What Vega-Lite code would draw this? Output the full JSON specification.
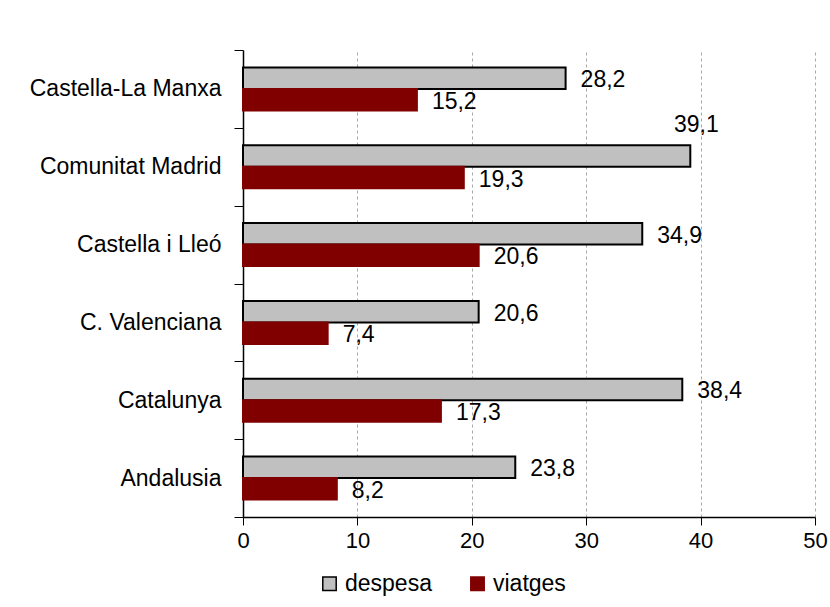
{
  "$schema": "https://vega.github.io/schema/vega-lite/v6.json",
  "autosize": {"type": "none"},
  "padding": {"left": 243, "top": 50, "right": 15, "bottom": 90},
  "width": 572,
  "height": 467,
  "background": "white",
  "config": {
    "locale": {"number": {"decimal": ",", "thousands": ".", "grouping": [3], "currency": ["", " €"]}},
    "font": "Liberation Sans",
    "view": {"stroke": null}
  },
  "data": {
    "values": [
      {"region": "Castella-La Manxa", "series": "despesa", "value": 28.2},
      {"region": "Castella-La Manxa", "series": "viatges", "value": 15.2},
      {"region": "Comunitat Madrid", "series": "despesa", "value": 39.1},
      {"region": "Comunitat Madrid", "series": "viatges", "value": 19.3},
      {"region": "Castella i Lleó", "series": "despesa", "value": 34.9},
      {"region": "Castella i Lleó", "series": "viatges", "value": 20.6},
      {"region": "C. Valenciana", "series": "despesa", "value": 20.6},
      {"region": "C. Valenciana", "series": "viatges", "value": 7.4},
      {"region": "Catalunya", "series": "despesa", "value": 38.4},
      {"region": "Catalunya", "series": "viatges", "value": 17.3},
      {"region": "Andalusia", "series": "despesa", "value": 23.8},
      {"region": "Andalusia", "series": "viatges", "value": 8.2}
    ]
  },
  "encoding": {
    "y": {
      "field": "region",
      "type": "nominal",
      "sort": null,
      "scale": {"paddingInner": 0, "paddingOuter": 0},
      "axis": {
        "title": null,
        "tickBand": "extent",
        "domainColor": "black",
        "domainWidth": 1.5,
        "tickColor": "black",
        "tickWidth": 1,
        "tickSize": 9,
        "labelFontSize": 23,
        "labelColor": "black",
        "labelPadding": 13,
        "labelLimit": 300
      }
    },
    "yOffset": {
      "field": "series",
      "type": "nominal",
      "sort": ["despesa", "viatges"],
      "scale": {"paddingInner": 0, "paddingOuter": 0.81}
    },
    "x": {
      "field": "value",
      "type": "quantitative",
      "scale": {"domain": [0, 50], "nice": false},
      "axis": {
        "title": null,
        "values": [0, 10, 20, 30, 40, 50],
        "grid": true,
        "gridColor": "#a8a8a8",
        "gridDash": [3, 3],
        "gridWidth": 1,
        "domainColor": "black",
        "domainWidth": 1.5,
        "tickColor": "black",
        "tickWidth": 1,
        "tickSize": 8,
        "labelFontSize": 22,
        "labelColor": "black",
        "labelFlush": false,
        "labelPadding": 5
      }
    }
  },
  "layer": [
    {
      "mark": {"type": "bar", "strokeWidth": 2},
      "encoding": {
        "fill": {
          "field": "series",
          "type": "nominal",
          "scale": {"domain": ["despesa", "viatges"], "range": ["#c0c0c0", "#800000"]},
          "legend": {
            "title": null,
            "orient": "none",
            "direction": "horizontal",
            "legendX": 75,
            "legendY": 522,
            "symbolType": "square",
            "symbolSize": 180,
            "symbolStrokeWidth": 1.5,
            "labelFontSize": 23,
            "labelColor": "black",
            "labelOffset": 4,
            "columnPadding": 34
          }
        },
        "stroke": {
          "field": "series",
          "type": "nominal",
          "scale": {"domain": ["despesa", "viatges"], "range": ["black", "#800000"]},
          "legend": {
            "title": null,
            "orient": "none",
            "direction": "horizontal",
            "legendX": 75,
            "legendY": 522,
            "symbolType": "square",
            "symbolSize": 180,
            "symbolStrokeWidth": 1.5,
            "labelFontSize": 23,
            "labelColor": "black",
            "labelOffset": 4,
            "columnPadding": 34
          }
        }
      }
    },
    {
      "transform": [{"filter": "!(datum.region == 'Comunitat Madrid' && datum.series == 'despesa')"}],
      "mark": {"type": "text", "align": "left", "baseline": "middle", "dx": 15, "dy": 2, "fontSize": 23, "color": "black"},
      "encoding": {"text": {"field": "value", "type": "quantitative", "format": ".1f"}}
    },
    {
      "transform": [{"filter": "datum.region == 'Comunitat Madrid' && datum.series == 'despesa'"}],
      "mark": {"type": "text", "align": "center", "baseline": "middle", "dx": 6, "dy": -31, "fontSize": 23, "color": "black"},
      "encoding": {"text": {"field": "value", "type": "quantitative", "format": ".1f"}}
    }
  ]
}
